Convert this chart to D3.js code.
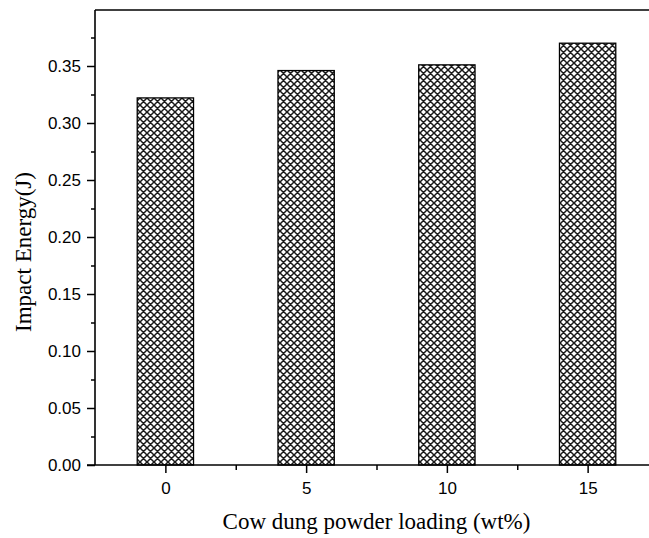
<!DOCTYPE html>
<html>
<head>
<meta charset="utf-8">
<script src="https://cdn.jsdelivr.net/npm/d3@7"></script>
<style>
  html, body { margin: 0; padding: 0; background: #fff; }
  svg { display: block; }
</style>
</head>
<body>
<svg id="chart" width="649" height="538"></svg>
<script>
// Filler loading levels (wt%) and measured impact energy (J)
const loadings = [0, 5, 10, 15];
const impactEnergy = [0.322, 0.346, 0.351, 0.370];
const yTickValues = [0, 0.05, 0.10, 0.15, 0.20, 0.25, 0.30, 0.35];
const yMinorValues = [0.025, 0.075, 0.125, 0.175, 0.225, 0.275, 0.325, 0.375];
const xTickValues = [0, 5, 10, 15];
const xMinorValues = [2.5, 7.5, 12.5];

const svg = d3.select("#chart");

const x = d3.scaleLinear().domain([-2.5, 17.5]).range([95, 658]);
const y = d3.scaleLinear().domain([0, 0.4]).range([465, 9]);

// cross-hatch fill for the bars
const defs = svg.append("defs");
const pat = defs.append("pattern")
  .attr("id", "crosshatch")
  .attr("patternUnits", "userSpaceOnUse")
  .attr("width", 7).attr("height", 7)
  .attr("x", 0).attr("y", 0);
pat.append("rect").attr("width", 7).attr("height", 7).attr("fill", "#fff");
pat.append("path")
  .attr("d", "M0,0 L7,7 M7,0 L0,7 M-1,6 L1,8 M6,-1 L8,1 M-1,1 L1,-1 M6,8 L8,6")
  .attr("stroke", "#1a1a1a").attr("stroke-width", 1.5).attr("fill", "none");

// bars
svg.append("g").selectAll("rect")
  .data(loadings)
  .join("rect")
  .attr("x", d => x(d - 1))
  .attr("width", d => x(d + 1) - x(d - 1))
  .attr("y", (d, i) => y(impactEnergy[i]))
  .attr("height", (d, i) => y(0) - y(impactEnergy[i]))
  .attr("fill", "url(#crosshatch)")
  .attr("stroke", "#000")
  .attr("stroke-width", 1.3);

// y axis with major and minor ticks
const yAxis = d3.axisLeft(y).tickValues(yTickValues)
  .tickFormat(d3.format(".2f")).tickSize(8).tickSizeOuter(0).tickPadding(6);
const gy = svg.append("g").attr("transform", `translate(${x(-2.5)},0)`).call(yAxis);
gy.select(".domain").remove();
gy.selectAll(".tick line").attr("stroke", "#000").attr("stroke-width", 1.5);
gy.selectAll(".tick text")
  .attr("font-family", "'Liberation Sans', Arial, sans-serif")
  .attr("font-size", 17).attr("fill", "#000");
const gyMinor = svg.append("g").attr("transform", `translate(${x(-2.5)},0)`)
  .call(d3.axisLeft(y).tickValues(yMinorValues).tickSize(4).tickFormat(""));
gyMinor.select(".domain").remove();
gyMinor.selectAll(".tick line").attr("stroke", "#000").attr("stroke-width", 1.5);

// x axis with major and minor ticks
const xAxis = d3.axisBottom(x).tickValues(xTickValues)
  .tickSize(8).tickSizeOuter(0).tickPadding(9);
const gx = svg.append("g").attr("transform", `translate(0,${y(0)})`).call(xAxis);
gx.select(".domain").remove();
gx.selectAll(".tick line").attr("stroke", "#000").attr("stroke-width", 1.5);
gx.selectAll(".tick text")
  .attr("font-family", "'Liberation Sans', Arial, sans-serif")
  .attr("font-size", 17).attr("fill", "#000");
const gxMinor = svg.append("g").attr("transform", `translate(0,${y(0)})`)
  .call(d3.axisBottom(x).tickValues(xMinorValues).tickSize(5).tickFormat(""));
gxMinor.select(".domain").remove();
gxMinor.selectAll(".tick line").attr("stroke", "#000").attr("stroke-width", 1.5);

// frame: left, bottom and top lines
const frame = svg.append("g").attr("stroke", "#000").attr("stroke-width", 1.6).attr("fill", "none");
frame.append("line").attr("x1", x(-2.5)).attr("x2", x(-2.5)).attr("y1", y(0.4) + 1).attr("y2", y(0));
frame.append("line").attr("x1", x(-2.5) - 8).attr("x2", x(17.5)).attr("y1", y(0)).attr("y2", y(0));
frame.append("line").attr("x1", x(-2.5)).attr("x2", x(17.5)).attr("y1", y(0.4) + 1).attr("y2", y(0.4) + 1);

// axis titles
svg.append("text")
  .attr("x", (x(-2.5) + x(17.5)) / 2).attr("y", 529)
  .attr("text-anchor", "middle")
  .attr("font-family", "'Liberation Serif', 'Times New Roman', serif")
  .attr("font-size", 23).attr("fill", "#000")
  .text("Cow dung powder loading (wt%)");

svg.append("text")
  .attr("transform", `translate(31,252) rotate(-90)`)
  .attr("text-anchor", "middle")
  .attr("font-family", "'Liberation Serif', 'Times New Roman', serif")
  .attr("font-size", 23).attr("fill", "#000")
  .text("Impact Energy(J)");
</script>
</body>
</html>
